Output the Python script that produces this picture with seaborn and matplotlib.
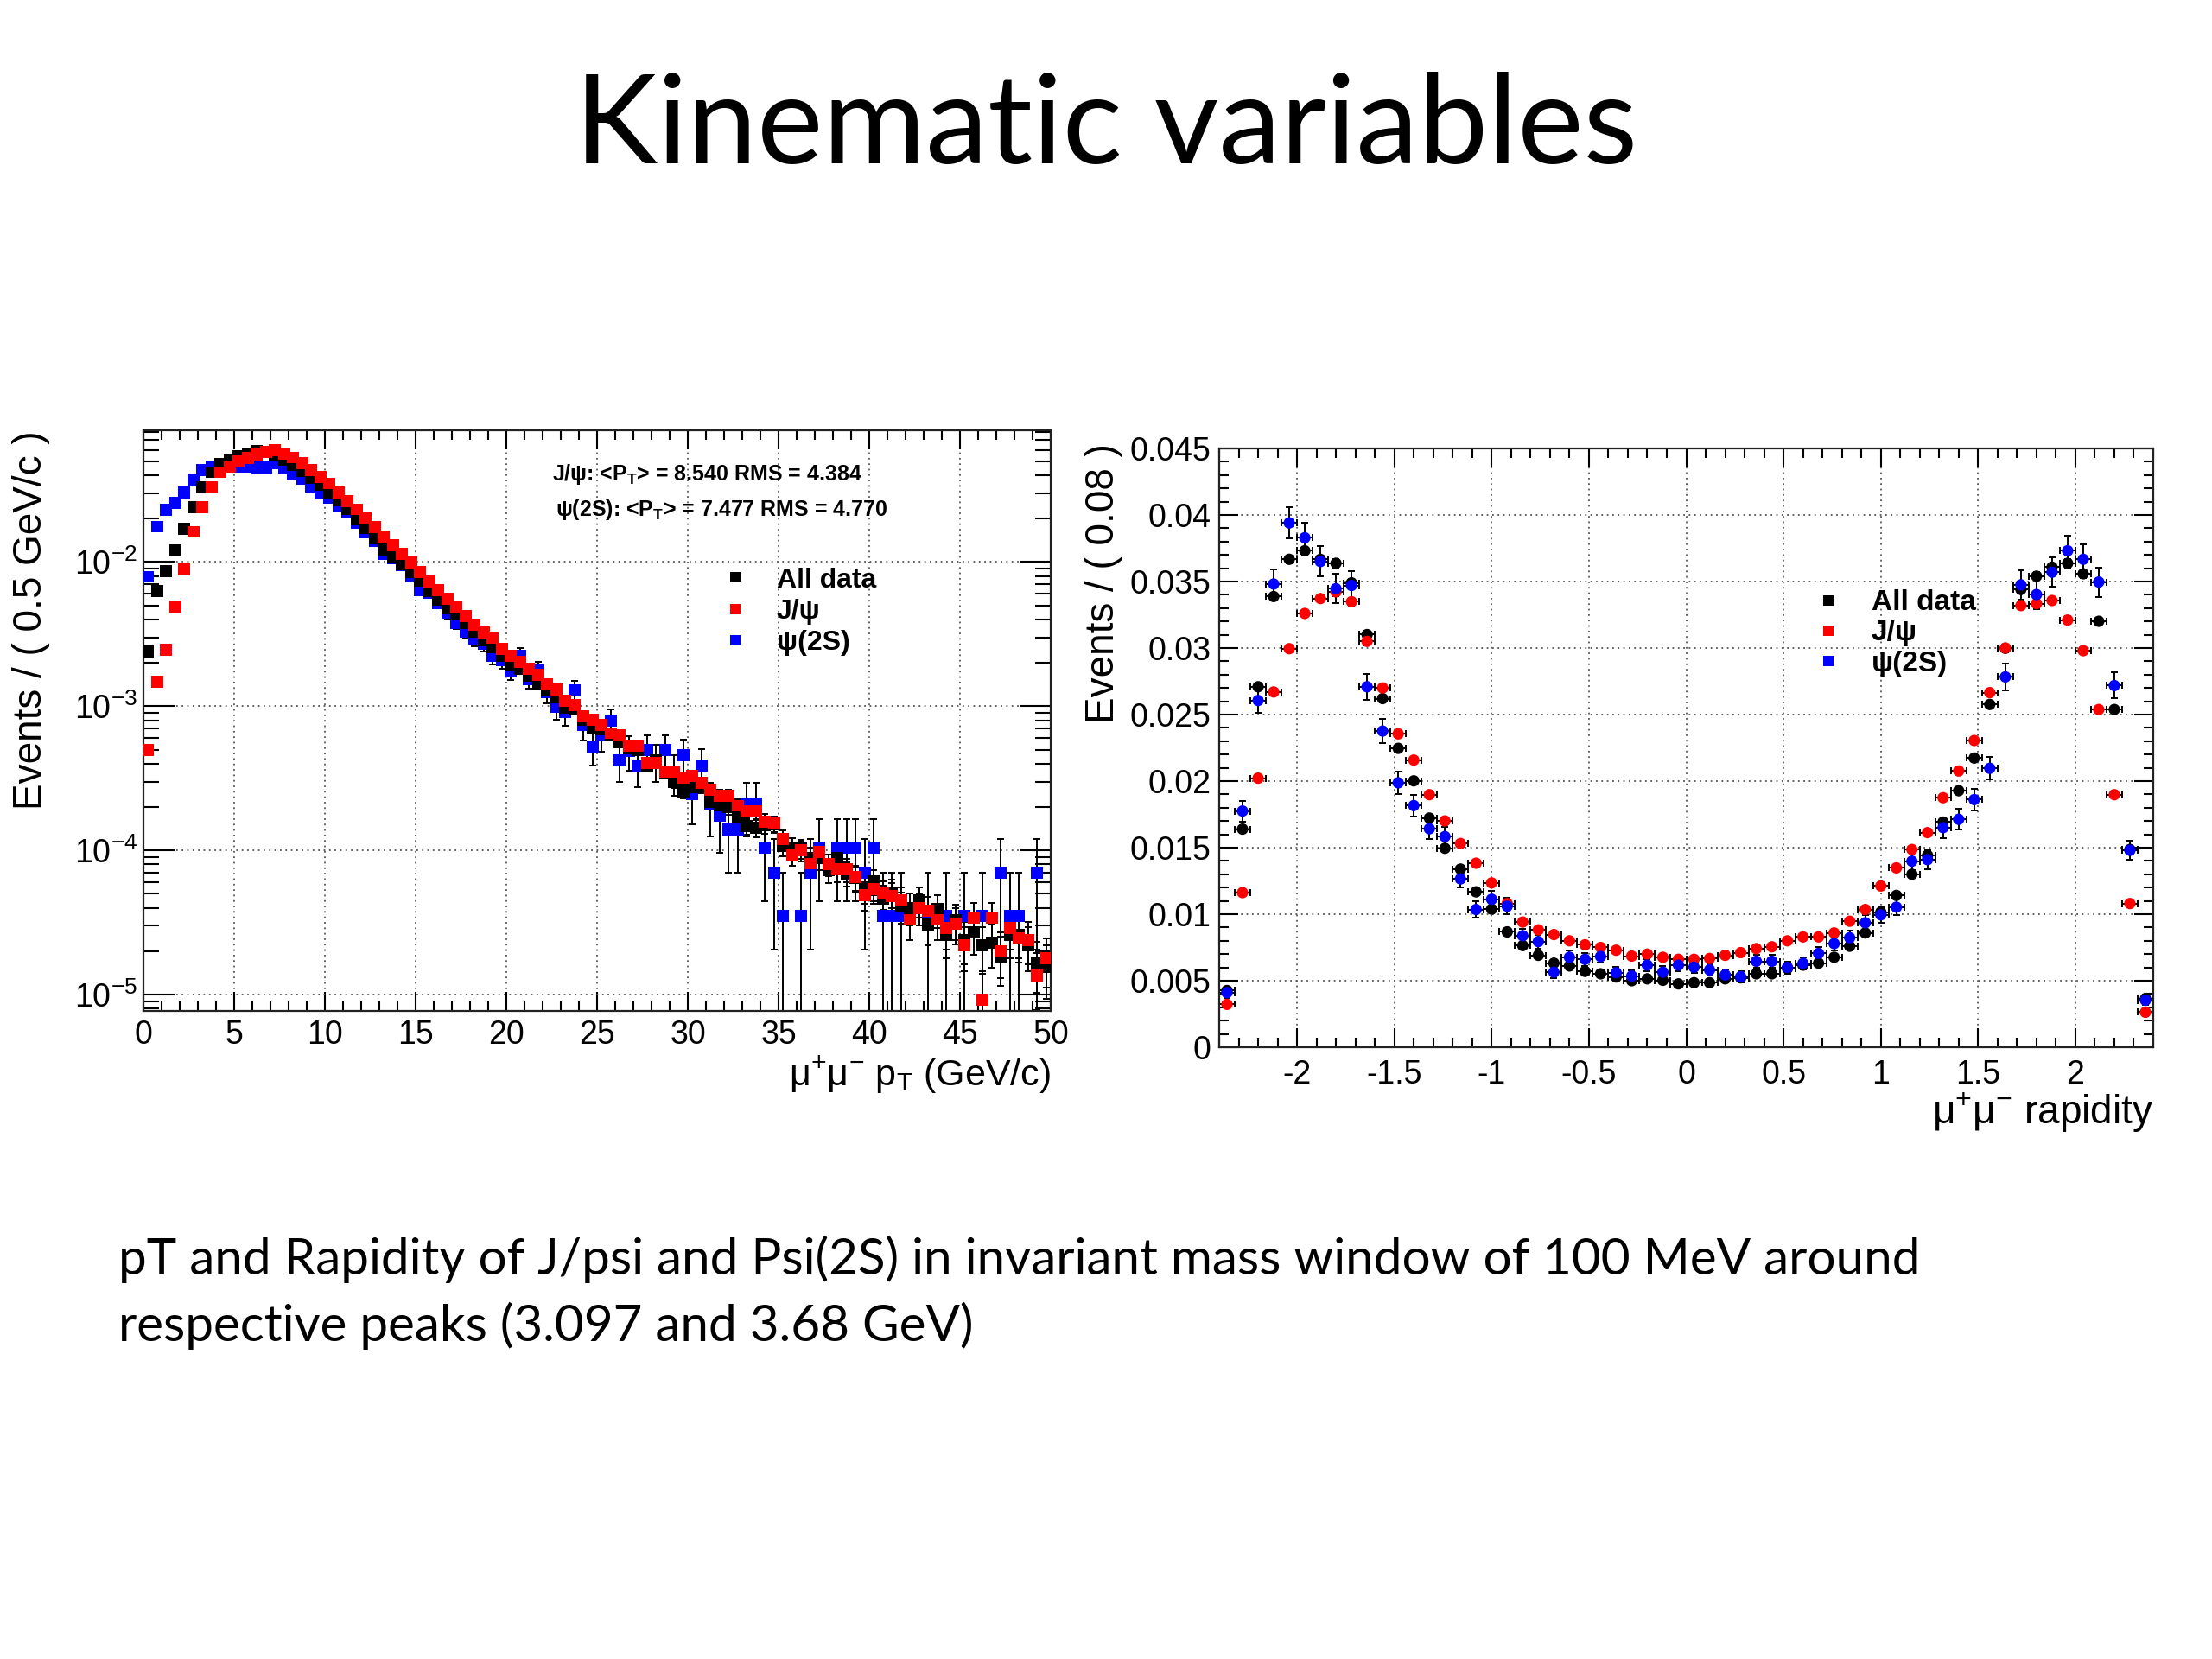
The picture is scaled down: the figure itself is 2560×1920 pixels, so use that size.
import numpy as np
import pandas as pd
import matplotlib
matplotlib.use('Agg')
import matplotlib.pyplot as plt
from matplotlib.lines import Line2D
from matplotlib.ticker import MultipleLocator, LogLocator, NullFormatter, FuncFormatter
import seaborn as sns

# series shared by both panels
series_names = ['All data', 'J/ψ', 'ψ(2S)']
series_colors = ['black', 'red', 'blue']
# events behind each normalised histogram (sets the size of the error bars)
n_events = [400000, 400000, 28600]

# ---- pT spectrum, 0.5 GeV/c bins ----
pt_bins = np.arange(0.25, 50.0, 0.5)
pt_all = [
    0.0024, 0.0063, 0.0087, 0.0120, 0.0170, 0.0240, 0.0330, 0.0420, 0.0480, 0.0510,
    0.0540, 0.0560, 0.0590, 0.0580, 0.0550, 0.0510, 0.0470, 0.0430, 0.0385, 0.0343,
    0.0305, 0.0267, 0.0232, 0.0197, 0.0172, 0.0146, 0.0122, 0.0109, 0.0096, 0.0085,
    0.0074, 0.0063, 0.00546, 0.00475, 0.00433, 0.00378, 0.00329, 0.00286, 0.00255, 0.00222,
    0.00194, 0.00181, 0.00162, 0.00144, 0.00128, 0.00116, 0.00097, 0.00095, 0.00081, 0.00071,
    0.00069, 0.00063, 0.00056, 0.00051, 0.00050, 0.00039, 0.00042, 0.000346, 0.00030, 0.000256,
    0.000275, 0.000275, 0.000218, 0.000204, 0.00020, 0.00017, 0.000148, 0.000143, 0.00015, 0.000152,
    1.07e-4, 1.05e-4, 1.03e-4, 8.9e-5, 8.8e-5, 7.3e-5, 8.9e-5, 6.9e-5, 6.4e-5, 5.4e-5,
    6.1e-5, 4.6e-5, 5.1e-5, 4.1e-5, 4.0e-5, 4.5e-5, 3.07e-5, 3.9e-5, 2.6e-5, 3.3e-5,
    2.4e-5, 2.7e-5, 2.2e-5, 2.3e-5, 1.83e-5, 2.6e-5, 2.6e-5, 2.2e-5, 1.67e-5, 1.56e-5,
]
pt_jpsi = [
    5.0e-4, 1.47e-3, 2.45e-3, 4.9e-3, 8.9e-3, 0.0162, 0.0240, 0.0330, 0.0420, 0.0460,
    0.0500, 0.0530, 0.0560, 0.0580, 0.0594, 0.0563, 0.0531, 0.0484, 0.0435, 0.0390,
    0.0351, 0.0305, 0.0266, 0.0232, 0.0202, 0.0174, 0.0150, 0.0131, 0.0114, 0.0099,
    0.00855, 0.00735, 0.0064, 0.00558, 0.00486, 0.00424, 0.00369, 0.00326, 0.0030, 0.00249,
    0.00225, 0.00203, 0.00181, 0.00165, 0.00142, 0.00131, 0.00109, 0.00102, 0.00085, 0.00081,
    0.00074, 0.00065, 0.00063, 0.000535, 0.000535, 0.000406, 0.000406, 0.000354, 0.000354, 0.00032,
    0.00033, 0.000294, 0.000262, 0.000239, 0.000239, 0.000204, 0.000186, 0.000186, 0.000158, 0.000153,
    1.2e-4, 9.3e-5, 1.0e-4, 8.1e-5, 9.8e-5, 8.0e-5, 7.4e-5, 7.4e-5, 6.5e-5, 4.9e-5,
    5.4e-5, 5.0e-5, 4.8e-5, 4.5e-5, 3.3e-5, 4.0e-5, 3.8e-5, 3.3e-5, 2.9e-5, 3.1e-5,
    2.2e-5, 3.4e-5, 9.2e-6, 3.4e-5, 2.0e-5, 2.9e-5, 2.46e-5, 2.4e-5, 1.36e-5, 1.78e-5,
]
pt_psi2s = [
    0.0079, 0.0176, 0.0229, 0.0258, 0.0305, 0.0367, 0.0432, 0.0460, 0.0480, 0.0470,
    0.0460, 0.0460, 0.0455, 0.0455, 0.0484, 0.0451, 0.0411, 0.0376, 0.0335, 0.0305,
    0.0279, 0.0248, 0.0221, 0.0188, 0.0161, 0.0140, 0.0114, 0.0106, 0.00946, 0.0079,
    0.0064, 0.0061, 0.0052, 0.00444, 0.00378, 0.0033, 0.00293, 0.0027, 0.00222, 0.0021,
    0.00177, 0.00225, 0.00155, 0.00177, 0.00126, 0.000996, 0.00091, 0.00129, 0.00074, 0.00052,
    0.00063, 0.00079, 0.00042, 0.00049, 0.00039, 0.00050, 0.00042, 0.00050, 0.00035, 0.00046,
    0.000245, 0.00039, 0.00021, 0.000175, 0.00014, 0.00014, 0.00021, 0.00021, 1.05e-4, 7.0e-5,
    3.5e-5, 0.0, 3.5e-5, 7.0e-5, 1.05e-4, 0.0, 1.05e-4, 1.05e-4, 1.05e-4, 7.0e-5,
    1.05e-4, 3.5e-5, 3.5e-5, 3.5e-5, 0.0, 0.0, 3.5e-5, 0.0, 3.5e-5, 0.0,
    3.5e-5, 0.0, 3.5e-5, 0.0, 7.0e-5, 3.5e-5, 3.5e-5, 0.0, 7.0e-5, 0.0,
]

# ---- rapidity, 0.08 bins ----
y_bins = np.round(np.arange(-2.36, 2.37, 0.08), 2)
y_all = [
    0.00426, 0.01639, 0.02709, 0.03387, 0.03667, 0.03731, 0.03667, 0.03637, 0.0349, 0.03101,
    0.0262, 0.02246, 0.02002, 0.01722, 0.01495, 0.01339, 0.01168, 0.01038, 0.00867, 0.00764,
    0.00691, 0.00632, 0.00611, 0.0057, 0.00552, 0.00528, 0.0050, 0.00514, 0.00503, 0.00476,
    0.00485, 0.00485, 0.00514, 0.00522, 0.00552, 0.00552, 0.00593, 0.00617, 0.00632, 0.00676,
    0.00759, 0.00859, 0.01015, 0.01141, 0.0130, 0.01442, 0.01692, 0.01928, 0.02173, 0.02576,
    0.02998, 0.0344, 0.0354, 0.03608, 0.03637, 0.03558, 0.03201, 0.02538, 0.01486, 0.00366,
]
y_jpsi = [
    0.00322, 0.01162, 0.02022, 0.0267, 0.02995, 0.0326, 0.03372, 0.03422, 0.03348, 0.0305,
    0.0270, 0.02355, 0.02158, 0.01898, 0.01701, 0.01531, 0.01383, 0.01235, 0.0108, 0.00941,
    0.00882, 0.00847, 0.0080, 0.0077, 0.0075, 0.00729, 0.00685, 0.0070, 0.00676, 0.00661,
    0.00661, 0.00667, 0.00691, 0.00711, 0.00741, 0.00755, 0.0080, 0.00829, 0.00829, 0.00859,
    0.00947, 0.01035, 0.01212, 0.01348, 0.01486, 0.01613, 0.01875, 0.02076, 0.02305, 0.02665,
    0.0300, 0.03319, 0.03334, 0.03357, 0.0321, 0.0298, 0.02538, 0.01898, 0.0108, 0.00263,
]
y_psi2s = [
    0.0041, 0.01775, 0.02606, 0.03481, 0.0394, 0.03829, 0.0365, 0.03446, 0.0347, 0.02709,
    0.02376, 0.01987, 0.01816, 0.01642, 0.01583, 0.01265, 0.01035, 0.01112, 0.0106, 0.00838,
    0.00794, 0.00564, 0.00676, 0.00661, 0.00682, 0.0056, 0.00535, 0.00617, 0.00564, 0.00617,
    0.00602, 0.00581, 0.00543, 0.0053, 0.00646, 0.00646, 0.0060, 0.0063, 0.00705, 0.00779,
    0.00823, 0.00935, 0.00995, 0.01053, 0.01398, 0.0141, 0.0165, 0.01713, 0.01861, 0.02096,
    0.02783, 0.03475, 0.03402, 0.0357, 0.03731, 0.03667, 0.03496, 0.02718, 0.0148, 0.00353,
]

stats_lines = ['J/ψ: <P$_{\\mathbf{T}}$> = 8.540 RMS = 4.384',
               'ψ(2S): <P$_{\\mathbf{T}}$> = 7.477 RMS = 4.770']
title = 'Kinematic variables'
caption = ['pT and Rapidity of J/psi and Psi(2S) in invariant mass window of 100 MeV around',
           'respective peaks (3.097 and 3.68 GeV)']


def long_frame(x, series, order):
    rows = []
    for i in order:
        for xi, v in zip(x, series[i]):
            if v > 0:
                rows.append((series_names[i], xi, v, np.sqrt(v / n_events[i])))
    return pd.DataFrame(rows, columns=['series', 'x', 'y', 'err'])


df_pt = long_frame(pt_bins, [pt_all, pt_jpsi, pt_psi2s], [2, 0, 1])
df_y = long_frame(y_bins, [y_all, y_jpsi, y_psi2s], [0, 1, 2])

sns.set_style('ticks')
plt.rcParams['font.family'] = ['Liberation Sans', 'DejaVu Sans']
plt.rcParams['mathtext.fontset'] = 'custom'
plt.rcParams['mathtext.rm'] = 'Liberation Sans'
plt.rcParams['mathtext.it'] = 'Liberation Sans:italic'
plt.rcParams['mathtext.bf'] = 'Liberation Sans:bold'
plt.rcParams['axes.unicode_minus'] = False
for key in ['text.color', 'axes.labelcolor', 'xtick.color', 'ytick.color']:
    plt.rcParams[key] = 'black'

fig = plt.figure(figsize=(25.6, 19.2), dpi=100)
fig.patch.set_facecolor('white')
ax_pt = fig.add_axes([0.06484, 0.39063, 0.41016, 0.35])
ax_y = fig.add_axes([0.55117, 0.36875, 0.42227, 0.36094])

palette = dict(zip(series_names, series_colors))
grid_kw = dict(linestyle=(0, (1, 2.5)), color='#555555', linewidth=1.3)

# ---------- left: pT ----------
ax_pt.set_yscale('log')
for name in df_pt['series'].unique():
    d = df_pt[df_pt['series'] == name]
    ax_pt.errorbar(d['x'], d['y'], yerr=d['err'], xerr=0.25, fmt='none',
                   ecolor='black', elinewidth=1.4, capsize=3, capthick=1.4, zorder=2)
sns.scatterplot(data=df_pt, x='x', y='y', hue='series', palette=palette,
                marker='s', s=100, linewidth=0, legend=False, ax=ax_pt, zorder=3)
ax_pt.set_xlim(0, 50)
ax_pt.set_ylim(7.7e-6, 0.082)
ax_pt.xaxis.set_major_locator(MultipleLocator(5))
ax_pt.xaxis.set_minor_locator(MultipleLocator(1))
ax_pt.yaxis.set_major_locator(LogLocator(base=10))
ax_pt.yaxis.set_minor_locator(LogLocator(base=10, subs=np.arange(2, 10)))
ax_pt.yaxis.set_minor_formatter(NullFormatter())
ax_pt.tick_params(which='both', direction='in', top=True, right=True, width=1.5, labelsize=27)
ax_pt.tick_params(axis='x', which='major', length=16, pad=7)
ax_pt.tick_params(axis='x', which='minor', length=8)
ax_pt.tick_params(axis='y', which='major', length=26, pad=5)
ax_pt.tick_params(axis='y', which='minor', length=13)
ax_pt.grid(True, which='major', **grid_kw)
ax_pt.set_xlabel('μ$^{+}$μ$^{-}$ p$_{\\mathrm{T}}$ (GeV/c)', fontsize=31, loc='right')
ax_pt.xaxis.label.set_va('center')
ax_pt.xaxis.set_label_coords(1.0, -0.11)
ax_pt.set_ylabel('Events / ( 0.5 GeV/c )', fontsize=33, loc='top')
ax_pt.yaxis.label.set_va('center')
ax_pt.yaxis.set_label_coords(-0.124, 1.0)

fig.text(639 / 2560, 1 - 549 / 1920, stats_lines[0], fontsize=18, fontweight='bold', va='center')
fig.text(643 / 2560, 1 - 590 / 1920, stats_lines[1], fontsize=18, fontweight='bold', va='center')

# ---------- right: rapidity ----------
for name in series_names:
    d = df_y[df_y['series'] == name]
    ax_y.errorbar(d['x'], d['y'], yerr=d['err'], xerr=0.04, fmt='none',
                  ecolor='black', elinewidth=1.4, capsize=3, capthick=1.4, zorder=2)
sns.scatterplot(data=df_y, x='x', y='y', hue='series', palette=palette,
                marker='o', s=90, linewidth=0, legend=False, ax=ax_y, zorder=3)
ax_y.set_xlim(-2.4, 2.4)
ax_y.set_ylim(0, 0.045)
ax_y.xaxis.set_major_locator(MultipleLocator(0.5))
ax_y.xaxis.set_minor_locator(MultipleLocator(0.1))
ax_y.yaxis.set_major_locator(MultipleLocator(0.005))
ax_y.yaxis.set_minor_locator(MultipleLocator(0.001))
fmt = FuncFormatter(lambda v, p: '%g' % round(v, 4))
ax_y.xaxis.set_major_formatter(fmt)
ax_y.yaxis.set_major_formatter(fmt)
ax_y.tick_params(which='both', direction='in', top=True, right=True, width=1.5, labelsize=27)
ax_y.tick_params(which='major', length=16)
ax_y.tick_params(which='minor', length=8)
ax_y.tick_params(axis='x', which='major', pad=10)
ax_y.tick_params(axis='y', which='major', pad=7)
ax_y.grid(True, which='major', **grid_kw)
ax_y.set_xlabel('μ$^{+}$μ$^{-}$ rapidity', fontsize=33, loc='right')
ax_y.xaxis.label.set_va('center')
ax_y.xaxis.set_label_coords(1.0, -0.11)
ax_y.set_ylabel('Events / ( 0.08 )', fontsize=33, loc='top')
ax_y.yaxis.label.set_va('center')
ax_y.yaxis.set_label_coords(-0.124, 1.009)

for ax in (ax_pt, ax_y):
    for sp in ax.spines.values():
        sp.set_linewidth(1.6)
        sp.set_color('#222222')
    ax.set_facecolor('white')


def handles(ms):
    return [Line2D([], [], linestyle='none', marker='s', markersize=ms,
                   markerfacecolor=c, markeredgewidth=0) for c in series_colors]


fig.legend(handles(9), series_names, loc='center left',
           bbox_to_anchor=(835 / 2560, 1 - 708 / 1920), frameon=False,
           prop={'weight': 'bold', 'size': 23}, handlelength=1.0, handletextpad=1.0,
           labelspacing=0.2, borderpad=0, borderaxespad=0)
fig.legend(handles(8), series_names, loc='center left',
           bbox_to_anchor=(2099 / 2560, 1 - 733 / 1920), frameon=False,
           prop={'weight': 'bold', 'size': 24}, handlelength=1.0, handletextpad=1.0,
           labelspacing=0.12, borderpad=0, borderaxespad=0)

# slide title and caption
fig.text(0.5, 1 - 189 / 1920, title, ha='center', va='baseline', color='black',
         fontsize=104, family=['Lato', 'DejaVu Sans'])
fig.text(137 / 2560, 1 - 1475 / 1920, caption[0], ha='left', va='baseline', color='black',
         fontsize=42, family=['Lato', 'DejaVu Sans'])
fig.text(137 / 2560, 1 - 1552 / 1920, caption[1], ha='left', va='baseline', color='black',
         fontsize=42, family=['Lato', 'DejaVu Sans'])

fig.savefig('out.png', dpi=100, facecolor='white')
